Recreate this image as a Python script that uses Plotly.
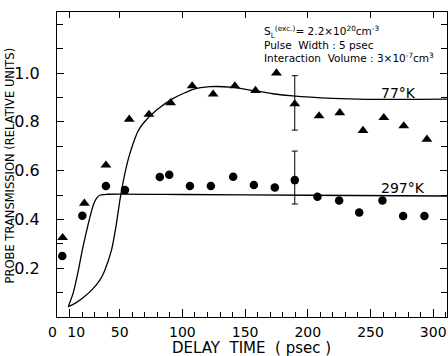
import plotly.graph_objects as go

# 77 K data (triangles)
t77_x = [4.5, 21.8, 39, 57.6, 73.3, 90.6, 107.8, 124.5, 141.8, 158.3, 175, 189.6, 209, 225.5, 244, 260.6, 276.5, 295]
t77_y = [0.325, 0.466, 0.622, 0.81, 0.83, 0.878, 0.947, 0.913, 0.947, 0.928, 1.0, 0.873, 0.824, 0.837, 0.764, 0.817, 0.783, 0.728]

# 297 K data (circles)
t297_x = [4.2, 20.2, 39, 54.2, 82, 89.5, 106, 122.7, 140.5, 157, 173.7, 189.6, 207.7, 225, 241, 259.5, 276, 293]
t297_y = [0.25, 0.415, 0.537, 0.52, 0.574, 0.583, 0.537, 0.537, 0.575, 0.541, 0.531, 0.561, 0.493, 0.477, 0.428, 0.477, 0.414, 0.414]

# error bars (on the 190 psec points)
err77_x = [189.6]
err77_y = [0.873]
err77_plus = [0.116]
err77_minus = [0.107]
err297_x = [189.6]
err297_y = [0.561]
err297_plus = [0.119]
err297_minus = [0.098]

# theoretical curves
c77_x = [9, 15, 21, 28, 34.3, 38, 43.5, 47, 50.2, 53, 57, 60.8, 64.5, 68.8, 79.4, 92.7, 108.6, 122, 140.5, 156.4, 172, 188, 220, 247, 311]
c77_y = [0.042, 0.058, 0.08, 0.112, 0.152, 0.19, 0.275, 0.37, 0.48, 0.56, 0.65, 0.712, 0.76, 0.794, 0.848, 0.896, 0.933, 0.944, 0.941, 0.928, 0.915, 0.906, 0.896, 0.892, 0.893]
c297_x = [9, 13, 17, 20, 23, 26.3, 29, 31.6, 34.5, 40, 100, 200, 311]
c297_y = [0.042, 0.10, 0.19, 0.27, 0.34, 0.41, 0.46, 0.487, 0.500, 0.503, 0.502, 0.499, 0.496]

x_tickvals = [0, 10, 50, 100, 150, 200, 250, 300]
x_ticktext = ["0\u00a0\u00a0", "\u00a0\u00a0\u00a010", "50", "100", "150", "200", "250", "300"]
x_top_tickvals = [10, 50, 100, 150, 200, 250, 300]
y_tickvals = [0.2, 0.4, 0.6, 0.8, 1.0]
y_ticktext = ["0.2", "0.4", "0.6", "0.8", "1.0"]

FONT = "DejaVu Sans"

fig = go.Figure()
fig.add_trace(go.Scatter(x=c77_x, y=c77_y, mode="lines", line=dict(color="black", width=1.3, shape="spline", smoothing=0.6), hoverinfo="skip"))
fig.add_trace(go.Scatter(x=c297_x, y=c297_y, mode="lines", line=dict(color="black", width=1.3, shape="spline", smoothing=0.6), hoverinfo="skip"))
fig.add_trace(go.Scatter(x=t77_x, y=t77_y, mode="markers", marker=dict(symbol="triangle-up", size=9.5, color="black")))
fig.add_trace(go.Scatter(x=t297_x, y=t297_y, mode="markers", marker=dict(symbol="circle", size=8.5, color="black")))
fig.add_trace(go.Scatter(x=err77_x, y=err77_y, mode="markers", marker=dict(size=1, color="black", opacity=0),
                         error_y=dict(type="data", array=err77_plus, arrayminus=err77_minus, color="black", thickness=1, width=3)))
fig.add_trace(go.Scatter(x=err297_x, y=err297_y, mode="markers", marker=dict(size=1, color="black", opacity=0),
                         error_y=dict(type="data", array=err297_plus, arrayminus=err297_minus, color="black", thickness=1, width=3)))
# invisible trace so the top (tick-only) axis is drawn
fig.add_trace(go.Scatter(x=c77_x, y=c77_y, xaxis="x2", mode="lines", line=dict(width=0), opacity=0, hoverinfo="skip"))

fig.update_layout(
    template="none",
    width=448, height=356,
    margin=dict(l=57, r=1, t=12, b=39, autoexpand=False),
    paper_bgcolor="white", plot_bgcolor="white",
    showlegend=False,
    font=dict(family=FONT, color="black"),
    xaxis=dict(range=[0, 311], tickmode="array", tickvals=x_tickvals, ticktext=x_ticktext, tickangle=0,
               ticks="inside", ticklen=8, tickwidth=1.2, tickcolor="black", automargin=False, ticklabelstandoff=2,
               minor=dict(tickmode="linear", tick0=0, dtick=10, ticks="inside", ticklen=5, tickwidth=1, tickcolor="black", showgrid=False),
               showline=True, linecolor="black", linewidth=1.2, mirror=True, showgrid=False, zeroline=False,
               tickfont=dict(size=14, family=FONT)),
    xaxis2=dict(range=[0, 311], overlaying="x", side="top", anchor="y", tickmode="array", tickvals=x_top_tickvals,
                ticks="inside", ticklen=6, tickwidth=1.2, tickcolor="black", showticklabels=False, automargin=False,
                showgrid=False, zeroline=False, showline=False),
    yaxis=dict(range=[0, 1.25], tickmode="array", tickvals=y_tickvals, ticktext=y_ticktext, tickangle=0,
               ticks="inside", ticklen=7, tickwidth=1.2, tickcolor="black", automargin=False,
               minor=dict(tickmode="linear", tick0=0, dtick=0.1, ticks="inside", ticklen=6, tickwidth=1, tickcolor="black", showgrid=False),
               showline=True, linecolor="black", linewidth=1.2, mirror="ticks", showgrid=False, zeroline=False,
               tickfont=dict(size=16, family=FONT), ticklabelstandoff=13),
)

anns = [
    dict(text="PROBE TRANSMISSION (RELATIVE UNITS)", x=-0.1205, y=0.497, textangle=-90, font=dict(size=11.5)),
    dict(text="DELAY\u00a0\u00a0TIME\u00a0\u00a0(\u00a0psec\u00a0)", x=0.4987, y=-0.103, font=dict(size=15)),
    dict(text="77°K", x=0.876, y=0.734, font=dict(size=14)),
    dict(text="297°K", x=0.886, y=0.423, font=dict(size=14)),
]
for a in anns:
    fig.add_annotation(xref="paper", yref="paper", showarrow=False, xanchor="center", yanchor="middle", **a)

info = [
    ("S<sub>L</sub><sup>(exc.)</sup>= 2.2×10<sup>20</sup>cm<sup>-3</sup>", 0.934),
    ("Pulse\u00a0\u00a0Width : 5 psec", 0.892),
    ("Interaction\u00a0\u00a0Volume : 3×10<sup>-7</sup>cm<sup>3</sup>", 0.852),
]
for txt, yy in info:
    fig.add_annotation(xref="paper", yref="paper", showarrow=False, x=0.5256, y=yy, xanchor="left", yanchor="middle",
                       align="left", text=txt, font=dict(size=10.5))

fig.write_html("out.html", config={"displayModeBar": False},
               post_script="document.body.style.margin='0';document.body.style.padding='0';")
